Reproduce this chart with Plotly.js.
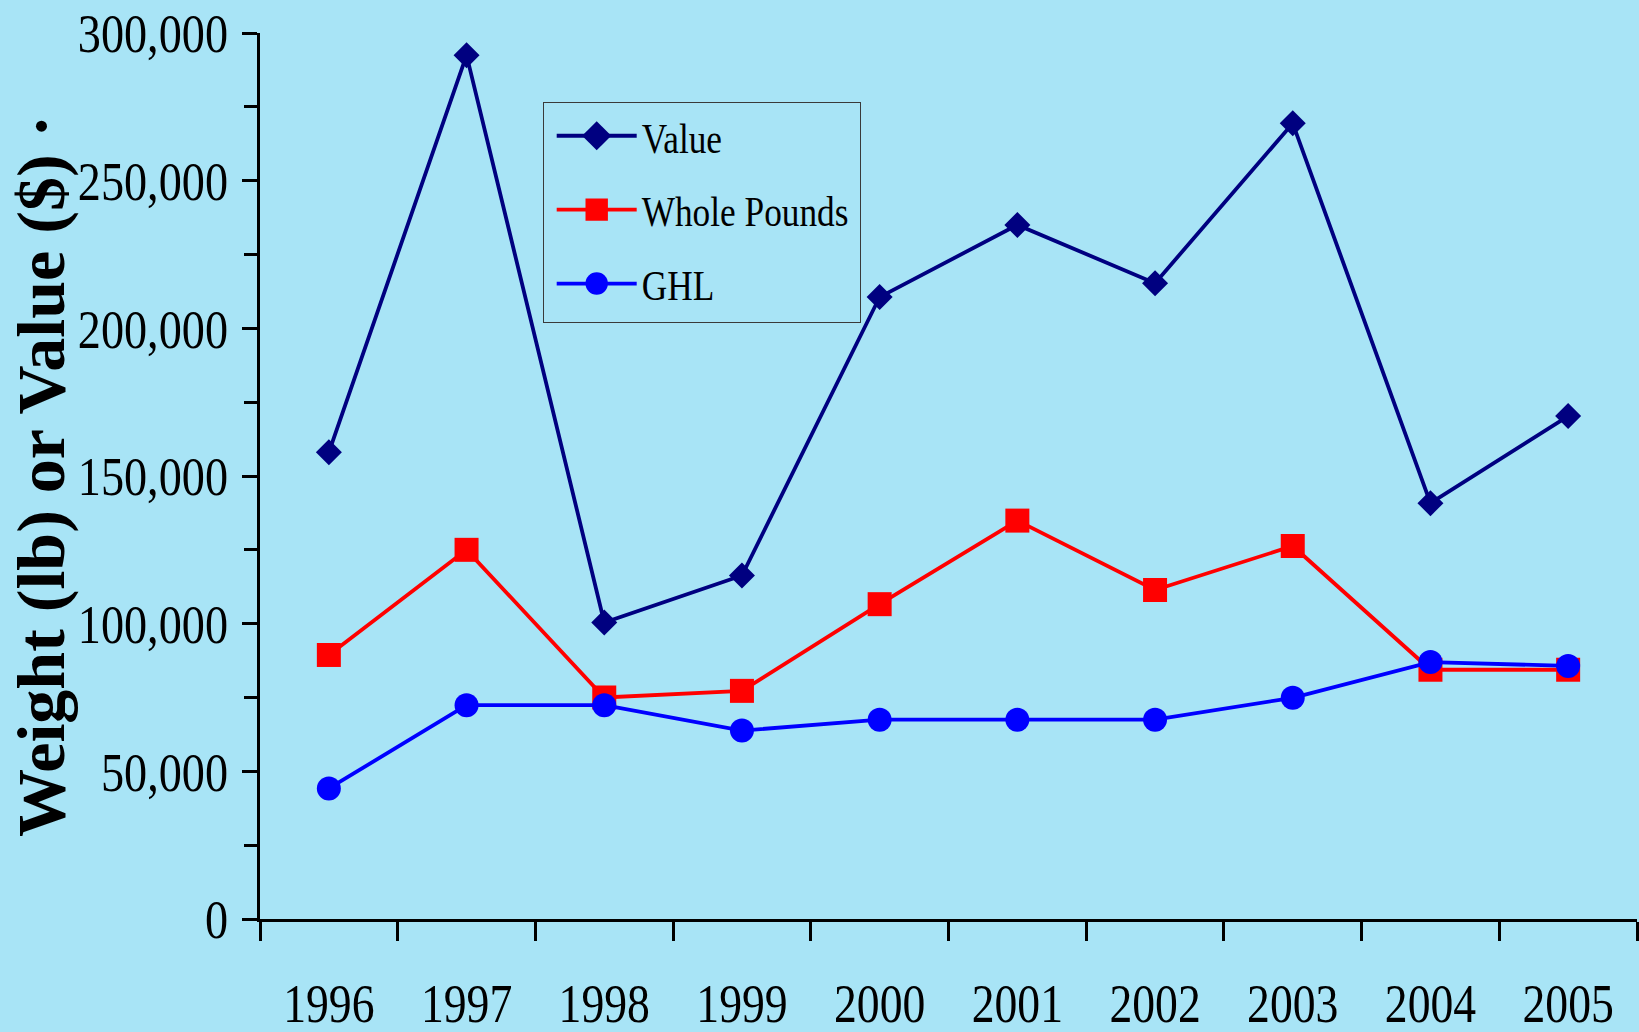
<!DOCTYPE html>
<html>
<head>
<meta charset="utf-8">
<script src="https://cdn.plot.ly/plotly-3.0.1.min.js"></script>
<style>
html,body{margin:0;padding:0;background:#A8E4F6;}
#chart{width:1639px;height:1032px;}
</style>
</head>
<body>
<div id="chart"></div>
<script>
// ---- data ----
const years = ['1996','1997','1998','1999','2000','2001','2002','2003','2004','2005'];
const valueDollars = [158000, 292500, 100400, 116300, 210600, 235000, 215300, 269400, 140800, 170300];
const wholePounds  = [89400, 125000, 75000, 77250, 106600, 134900, 111400, 126300, 84400, 84400];
const ghl          = [44200, 72400, 72400, 63800, 67500, 67500, 67500, 74900, 87000, 85700];
const seriesNames  = ['Value', 'Whole Pounds', 'GHL'];
const yTitle = 'Weight (lb) or Value ($) ·';

const BG = '#A8E4F6';
const FONT = 'Liberation Serif, Times New Roman, serif';

const data = [
  {x: years, y: valueDollars, name: seriesNames[0], type: 'scatter', mode: 'lines+markers',
   legendgroup: 'a', line: {color: '#000080', width: 3.8},
   marker: {symbol: 'diamond', size: 20, color: '#000080'}},
  {x: years, y: wholePounds, name: seriesNames[1], type: 'scatter', mode: 'lines+markers',
   legendgroup: 'b', line: {color: '#FF0000', width: 3.8},
   marker: {symbol: 'square', size: 24, color: '#FF0000'}},
  {x: years, y: ghl, name: seriesNames[2], type: 'scatter', mode: 'lines+markers',
   legendgroup: 'c', line: {color: '#0000FF', width: 3.8},
   marker: {symbol: 'circle', size: 24, color: '#0000FF'}}
];

const layout = {
  width: 1639, height: 1032,
  margin: {l: 260, r: 2, t: 33, b: 113, pad: 0},
  paper_bgcolor: BG, plot_bgcolor: BG,
  font: {family: FONT, color: '#000'},
  showlegend: true,
  legend: {x: 0.2053, y: 0.9218, xanchor: 'left', yanchor: 'top',
           bgcolor: 'rgba(0,0,0,0)', bordercolor: '#3a3a3a', borderwidth: 1,
           font: {size: 43, family: FONT, color: '#000'},
           itemwidth: 80, tracegroupgap: 15},
  xaxis: {type: 'category', range: [-0.5, 9.5], tickson: 'boundaries',
          ticks: 'outside', ticklen: 19, tickwidth: 3, tickcolor: '#000',
          showline: true, linewidth: 3, linecolor: '#000',
          showgrid: false, zeroline: false,
          tickfont: {size: 55, family: FONT, color: '#000'}, ticklabelstandoff: 34},
  yaxis: {range: [0, 300000], tick0: 0, dtick: 50000, tickformat: ',d',
          ticks: 'outside', ticklen: 15, tickwidth: 3, tickcolor: '#000',
          minor: {ticks: 'outside', ticklen: 13, tickwidth: 3, tickcolor: '#000', dtick: 25000, tick0: 0, showgrid: false},
          showline: true, linewidth: 3, linecolor: '#000',
          showgrid: false, zeroline: false,
          tickfont: {size: 55, family: FONT, color: '#000'}, ticklabelstandoff: 3},
  yaxis2: {overlaying: 'y', anchor: 'x', side: 'left', range: [0, 300000], tick0: 0, dtick: 50000,
           ticks: 'inside', ticklen: 17, tickwidth: 3, tickcolor: '#000',
           showticklabels: false, showline: false, showgrid: false, zeroline: false},
  annotations: [{text: yTitle, xref: 'paper', yref: 'paper', x: (41 - 260) / 1377, y: 0.5,
                 xanchor: 'center', yanchor: 'middle', textangle: -90, showarrow: false,
                 font: {size: 68, family: FONT, color: '#000', weight: 'bold'}}]
};

Plotly.newPlot('chart', data, layout, {staticPlot: true}).then(function (gd) {
  function squish(sel, r) {
    gd.querySelectorAll(sel).forEach(function (t) {
      const w = t.getComputedTextLength();
      if (w > 0) {
        t.setAttribute('textLength', (w * r).toFixed(1));
        t.setAttribute('lengthAdjust', 'spacingAndGlyphs');
      }
    });
  }
  squish('.xtick text', 0.83);
  squish('.ytick text', 0.84);
  squish('.legendtext', 0.82);
  // legend box size as in the reference, items nudged right
  const bg = gd.querySelector('.legend rect.bg');
  if (bg) { bg.setAttribute('width', 317); bg.setAttribute('height', 220); }
  gd.querySelectorAll('.legend g.traces').forEach(function (g) {
    const tr = g.getAttribute('transform') || '';
    const m = tr.match(/translate\(\s*([-\d.]+)[ ,]+([-\d.]+)\s*\)/);
    if (m) g.setAttribute('transform', 'translate(' + (parseFloat(m[1]) + 8) + ',' + (parseFloat(m[2]) - 2) + ')');
  });
  gd.querySelectorAll('.legend .legendpoints path.scatterpts').forEach(function (p) {
    const tr = p.getAttribute('transform') || '';
    p.setAttribute('transform', tr + ' scale(1.4)');
  });
});
</script>
</body>
</html>
